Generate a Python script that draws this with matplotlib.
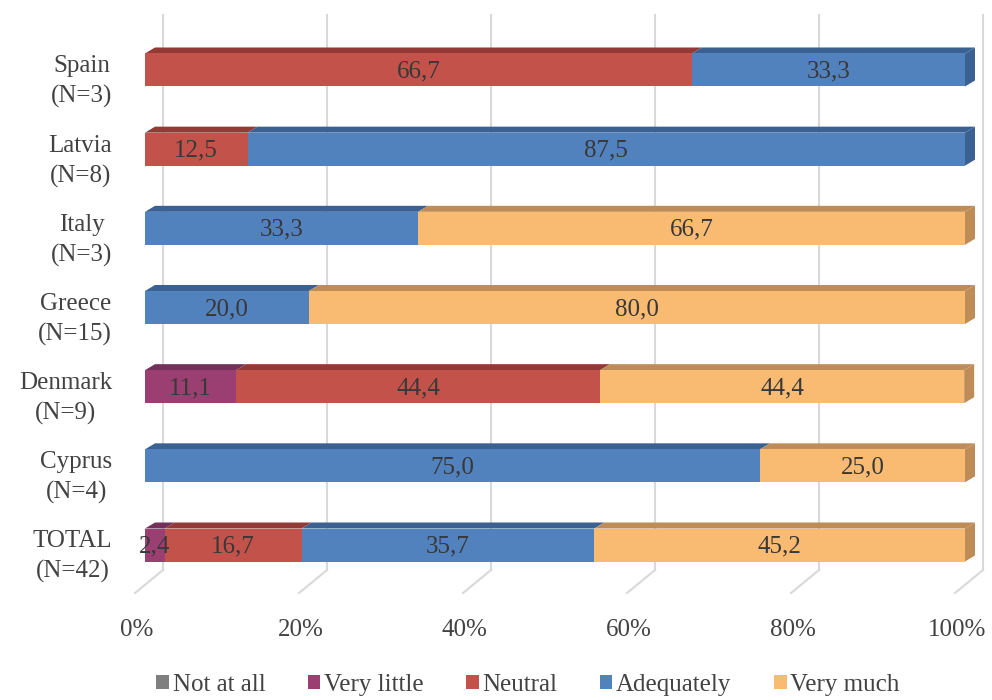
import matplotlib
matplotlib.use("Agg")
import matplotlib.pyplot as plt
from matplotlib.patches import Polygon, Patch
import numpy as np

# ---- data (percent of respondents per country) ----
countries = ["TOTAL\n(N=42)", "Cyprus\n(N=4)", "Denmark\n(N=9)", "Greece\n(N=15)",
             "Italy\n(N=3)", "Latvia\n(N=8)", "Spain\n(N=3)"]
series_names = ["Not at all", "Very little", "Neutral", "Adequately", "Very much"]
not_at_all = [0.0, 0.0, 0.0, 0.0, 0.0, 0.0, 0.0]
very_little = [2.4, 0.0, 11.1, 0.0, 0.0, 0.0, 0.0]
neutral = [16.7, 0.0, 44.4, 0.0, 0.0, 12.5, 66.7]
adequately = [35.7, 75.0, 0.0, 20.0, 33.3, 87.5, 33.3]
very_much = [45.2, 25.0, 44.4, 80.0, 66.7, 0.0, 0.0]
x_ticks = [0, 20, 40, 60, 80, 100]
x_tick_labels = ["0%", "20%", "40%", "60%", "80%", "100%"]

front_colors = ["#7F7F7F", "#9B3F73", "#C3534A", "#5282BE", "#F9BA72"]
top_colors = ["#5E5E5E", "#73305A", "#943A36", "#3B6193", "#BE8D57"]

series = [not_at_all, very_little, neutral, adequately, very_much]

FONT = "Liberation Serif"
FS = 18
TXT = "#424242"

fig = plt.figure(figsize=(9.92, 7.0), dpi=100)
ax = fig.add_axes([0, 0, 1, 1])
px_per_pct = 8.2
px_per_row = 79.17
ax.set_xlim(-145 / px_per_pct, (992 - 145) / px_per_pct)
ax.set_ylim(-155 / px_per_row, (700 - 155) / px_per_row)
ax.axis("off")

# 3D depth of the bars and of the chart floor, in data units
bdx = 10 / px_per_pct
bdy = 6 / px_per_row
half_h = 16.5 / px_per_row
wall_dx = 18 / px_per_pct
floor_dx = 28 / px_per_pct
floor_dy = 23 / px_per_row
grid_bottom = -0.316
grid_top = 6.69

# gridlines on the back wall with the floor edges
for t, tl in zip(x_ticks, x_tick_labels):
    xb = t + wall_dx
    ax.plot([xb, xb], [grid_bottom, grid_top], color="#D9D9D9", lw=1.5, zorder=1)
    ax.plot([xb, xb - floor_dx], [grid_bottom, grid_bottom - floor_dy],
            color="#D9D9D9", lw=1.5, zorder=1)
    ax.text(t - 1.0, -1.07, tl, ha="center", va="center",
            fontsize=FS, family=FONT, color=TXT)

# stacked 3D bars
for r, label in enumerate(countries):
    left = 0.0
    vals = [s[r] for s in series]
    last = max(i for i, v in enumerate(vals) if v > 0)
    for i, v in enumerate(vals):
        if v <= 0:
            continue
        x0, x1 = left, left + v
        y0, y1 = r - half_h, r + half_h
        ax.add_patch(Polygon([(x0, y0), (x1, y0), (x1, y1), (x0, y1)], closed=True,
                             facecolor=front_colors[i], edgecolor="none", zorder=3))
        ax.add_patch(Polygon([(x0, y1), (x1, y1), (x1 + bdx, y1 + bdy), (x0 + bdx, y1 + bdy)],
                             closed=True, facecolor=top_colors[i], edgecolor="none", zorder=2))
        if i == last:
            ax.add_patch(Polygon([(x1, y0), (x1 + bdx, y0 + bdy), (x1 + bdx, y1 + bdy), (x1, y1)],
                                 closed=True, facecolor=top_colors[i], edgecolor="none", zorder=3))
        ax.text((x0 + x1) / 2, r - 0.02, f"{v:.1f}".replace(".", ","), ha="center",
                va="center", fontsize=FS, family=FONT, color="#383838", zorder=4)
        left = x1
    ax.text(-4.0, r - 0.15, label, ha="right", va="center", multialignment="center",
            fontsize=FS, family=FONT, color=TXT, linespacing=1.45)

handles = [Patch(facecolor=c, edgecolor="none") for c in front_colors]
fig.legend(handles, series_names, loc="center", bbox_to_anchor=(528 / 992, 15 / 700),
           ncol=5, frameon=False, handlelength=0.5, handleheight=0.5,
           handletextpad=0.15, columnspacing=1.7,
           prop={"family": FONT, "size": FS}, labelcolor=TXT)

fig.savefig("out.png", dpi=100)
